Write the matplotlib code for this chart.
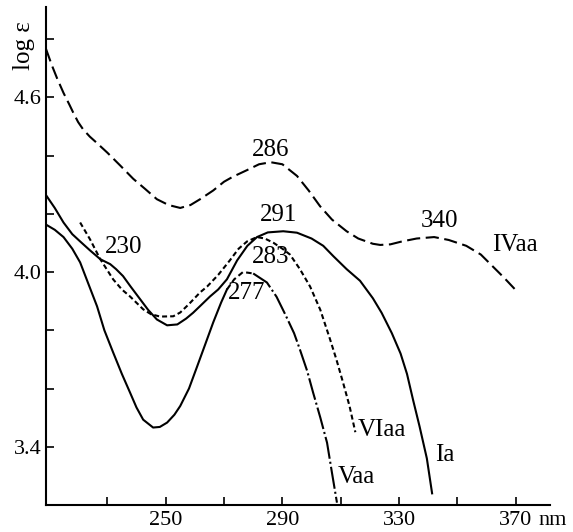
import matplotlib
matplotlib.use("Agg")
import matplotlib.pyplot as plt
import numpy as np

plt.rcParams['font.family'] = ['Liberation Serif', 'DejaVu Serif']
plt.rcParams['lines.scale_dashes'] = False

# ---------------- data (nm, log eps) ----------------
iv_nm = [209, 211, 212.8, 215, 217, 218.3, 220, 221.7, 224, 226, 230, 234.5, 238.9, 243, 247, 251, 255,
         258.5, 261.8, 266.3, 270, 273, 277.9, 282, 286, 290, 295, 299, 302.9, 307,
         312, 316, 321, 323.5, 327, 331, 336, 342, 347, 353, 358, 362, 366, 370.7]
iv_le = [4.766, 4.71, 4.665, 4.615, 4.575, 4.548, 4.515, 4.49, 4.465, 4.447, 4.41, 4.365, 4.32, 4.285, 4.25, 4.23, 4.22,
         4.23, 4.25, 4.28, 4.31, 4.327, 4.35, 4.37, 4.377, 4.37, 4.33, 4.28, 4.226, 4.18,
         4.14, 4.115, 4.097, 4.093, 4.095, 4.105, 4.115, 4.12, 4.11, 4.09, 4.06, 4.02, 3.98, 3.93]

ia_nm = [208.8, 212, 215, 218, 220.7, 224, 227.6, 231, 233, 235.4, 238, 241.3, 244, 247,
         250.5, 254, 257, 259.4, 262, 265.2, 268, 271, 274.5, 278, 281.3, 285, 290.3, 295,
         300, 304, 307.5, 312, 316.6, 321, 324, 327.5, 330.5, 332.7, 334.8, 337, 339.5, 341.3]
ia_le = [4.267, 4.22, 4.17, 4.13, 4.105, 4.075, 4.044, 4.027, 4.01, 3.986, 3.95, 3.906, 3.87, 3.837,
         3.817, 3.82, 3.84, 3.86, 3.885, 3.916, 3.94, 3.975, 4.04, 4.09, 4.12, 4.136, 4.14, 4.135,
         4.115, 4.09, 4.054, 4.01, 3.97, 3.91, 3.86, 3.79, 3.72, 3.65, 3.56, 3.47, 3.36, 3.24]

va_nm = [208.8, 212, 215, 218, 220.7, 223.5, 226.5, 229, 232, 235, 237.8, 240, 242.3, 245.7,
         248, 250.5, 253, 255, 258, 260.8, 263.5, 266.3, 269, 271, 273.5, 276.5, 280, 284.7,
         288, 291, 294, 296, 298.5, 300.5, 303, 305.3, 307, 308.7]
va_le = [4.164, 4.145, 4.12, 4.08, 4.033, 3.96, 3.882, 3.80, 3.724, 3.65, 3.586, 3.535, 3.493, 3.466,
         3.468, 3.483, 3.51, 3.54, 3.60, 3.676, 3.75, 3.827, 3.895, 3.94, 3.975, 4.0, 3.995, 3.964,
         3.915, 3.854, 3.79, 3.734, 3.66, 3.587, 3.50, 3.414, 3.31, 3.208]

vi_nm = [220.7, 224.1, 227.6, 232, 235, 237.8, 242.3, 245, 248.1, 252.6, 255, 258, 261.8, 264.2,
         268, 272, 275, 277.9, 281.3, 284, 287, 290, 292.6, 296, 299.5, 303, 306.3, 308.5,
         310.8, 313, 315]
vi_le = [4.17, 4.112, 4.044, 3.975, 3.94, 3.916, 3.872, 3.855, 3.847, 3.848, 3.861, 3.89, 3.93, 3.95,
         3.99, 4.04, 4.08, 4.105, 4.12, 4.115, 4.10, 4.08, 4.06, 4.01, 3.95, 3.87, 3.77, 3.70,
         3.62, 3.54, 3.45]

peak_labels = ["286", "291", "283", "277", "230", "340"]
peak_x = [286, 288.6, 285.8, 277.6, 235.5, 344]
peak_y = [4.42, 4.195, 4.05, 3.927, 4.085, 4.175]

curve_names = ["IVaa", "VIaa", "Ia", "Vaa"]
name_x = [361.8, 315.9, 342.3, 308.8]
name_y = [4.092, 3.459, 3.37, 3.297]

x_ticks = [230, 250, 270, 290, 310, 330, 350, 370]
x_labeled = [250, 290, 330, 370]
y_ticks = [3.4, 3.6, 3.8, 4.0, 4.2, 4.4, 4.6, 4.8]
y_labeled = [3.4, 4.0, 4.6]

# ---------------- figure ----------------
fig = plt.figure(figsize=(5.73, 5.32), dpi=100)
ax = fig.add_axes([46/573, 1 - 505/532, (550 - 46)/573, (505 - 7)/532])
ax.set_xlim(209, 381.7)
ax.set_ylim(3.2, 4.91)

lw = 1.5
col = 'black'
ax.plot(iv_nm, iv_le, color=col, lw=lw, dashes=(9.5, 4))
ax.plot(ia_nm, ia_le, color=col, lw=lw)
ax.plot(vi_nm, vi_le, color=col, lw=lw, dashes=(3.6, 2.2))

va_nm_a = np.array(va_nm); va_le_a = np.array(va_le)
m1 = va_nm_a <= 271.5
m2 = (va_nm_a >= 271) & (va_nm_a <= 282)
m3 = va_nm_a >= 280
ax.plot(va_nm_a[m1], va_le_a[m1], color=col, lw=lw)
ax.plot(va_nm_a[m2], va_le_a[m2], color=col, lw=lw, dashes=(4, 2.5))
ax.plot(va_nm_a[m3], va_le_a[m3], color=col, lw=lw, dashes=(16, 2.2, 1.5, 2.2))

fs_tick = 16
fs_ann = 18
for t, x, y in zip(peak_labels, peak_x, peak_y):
    ax.text(x, y, t, ha='center', va='center', fontsize=fs_ann)
for t, x, y in zip(curve_names, name_x, name_y):
    ax.text(x, y, t, ha='left', va='center', fontsize=fs_ann)

for s in ['top', 'right']:
    ax.spines[s].set_visible(False)
for s in ['left', 'bottom']:
    ax.spines[s].set_linewidth(1.5)

ax.set_xticks(x_ticks)
ax.set_xticklabels([str(v) if v in x_labeled else '' for v in x_ticks])
ax.set_yticks(y_ticks)
ax.set_yticklabels([f"{v:.1f}" if any(abs(v - u) < 1e-6 for u in y_labeled) else '' for v in y_ticks])
ax.tick_params(direction='in', length=6, width=1.2, labelsize=fs_tick)
ax.tick_params(axis='x', pad=4)
ax.tick_params(axis='y', pad=3)

ax.annotate('nm', xy=(377.6, 0), xycoords=('data', 'axes fraction'),
            xytext=(0, -4), textcoords='offset points', ha='left', va='top', fontsize=fs_tick)
fig.text(24/573, 1 - 46/532, 'log ε', rotation=90, ha='center', va='center', fontsize=18)

fig.savefig('out.png', dpi=100)
